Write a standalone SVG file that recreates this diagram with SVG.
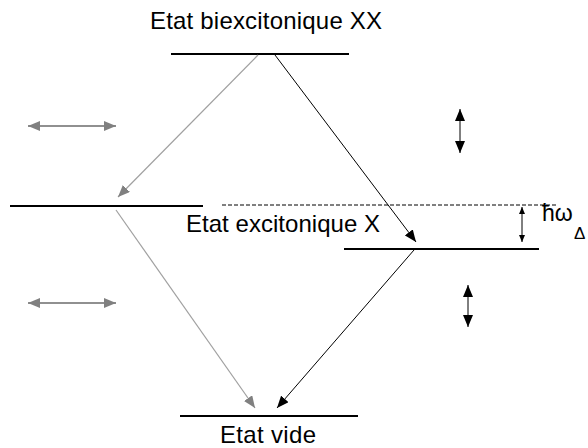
<svg xmlns="http://www.w3.org/2000/svg" width="588" height="448" viewBox="0 0 588 448">
<style>
text{font-family:"Liberation Sans",Arial,sans-serif;fill:#000}
.lvl{stroke:#000;stroke-width:2;fill:none}
.blk{stroke:#000;stroke-width:1;fill:none}
.gry{stroke:#a0a0a0;stroke-width:1.2;fill:none}
.gry2{stroke:#909090;stroke-width:2;fill:none}
.dash{stroke:#000;stroke-width:1;stroke-dasharray:4 2;fill:none}
</style>
<defs>
<marker id="ab" markerUnits="userSpaceOnUse" markerWidth="12" markerHeight="10" refX="12" refY="5" orient="auto-start-reverse"><path d="M0,0 L12,5 L0,10 z" fill="#000"/></marker>
<marker id="ag" markerUnits="userSpaceOnUse" markerWidth="12" markerHeight="10" refX="12" refY="5" orient="auto-start-reverse"><path d="M0,0 L12,5 L0,10 z" fill="#808080"/></marker>
<marker id="as" markerUnits="userSpaceOnUse" markerWidth="7" markerHeight="6" refX="7" refY="3" orient="auto-start-reverse"><path d="M0,0 L7,3 L0,6 z" fill="#000"/></marker>
</defs>
<g id="level-XX"><line class="lvl" x1="171" y1="54" x2="349" y2="54"/><text x="150" y="29" font-size="24" textLength="232">Etat biexcitonique XX</text></g>
<g id="level-X-left"><line class="lvl" x1="10" y1="206" x2="203" y2="206"/></g>
<g id="level-X-right"><line class="lvl" x1="344" y1="249" x2="539" y2="249"/><text x="186" y="232" font-size="24" textLength="194">Etat excitonique X</text></g>
<g id="level-vide"><line class="lvl" x1="180" y1="416" x2="358" y2="416"/><text x="220" y="443" font-size="24" textLength="96">Etat vide</text></g>
<g id="energy-label"><text x="542" y="221" font-size="23">ħω</text><text x="574" y="239" font-size="17">Δ</text></g>
<g id="connectors">
<line class="dash" x1="222" y1="205" x2="557" y2="205"/>
<line class="gry" x1="258" y1="55" x2="118" y2="197" marker-end="url(#ag)"/>
<line class="blk" x1="275" y1="55" x2="416" y2="242" marker-end="url(#ab)"/>
<line class="gry" x1="116" y1="210" x2="255" y2="408" marker-end="url(#ag)"/>
<line class="blk" x1="414" y1="250" x2="277" y2="408" marker-end="url(#ab)"/>
<line class="gry2" x1="28" y1="126" x2="116" y2="126" marker-start="url(#ag)" marker-end="url(#ag)"/>
<line class="gry2" x1="28" y1="303" x2="116" y2="303" marker-start="url(#ag)" marker-end="url(#ag)"/>
<line class="blk" x1="460" y1="109" x2="460" y2="153" marker-start="url(#ab)" marker-end="url(#ab)"/>
<line class="blk" x1="468" y1="285" x2="468" y2="327" marker-start="url(#ab)" marker-end="url(#ab)"/>
<line class="blk" x1="522" y1="207" x2="522" y2="242" marker-start="url(#as)" marker-end="url(#as)"/>
</g>
</svg>
